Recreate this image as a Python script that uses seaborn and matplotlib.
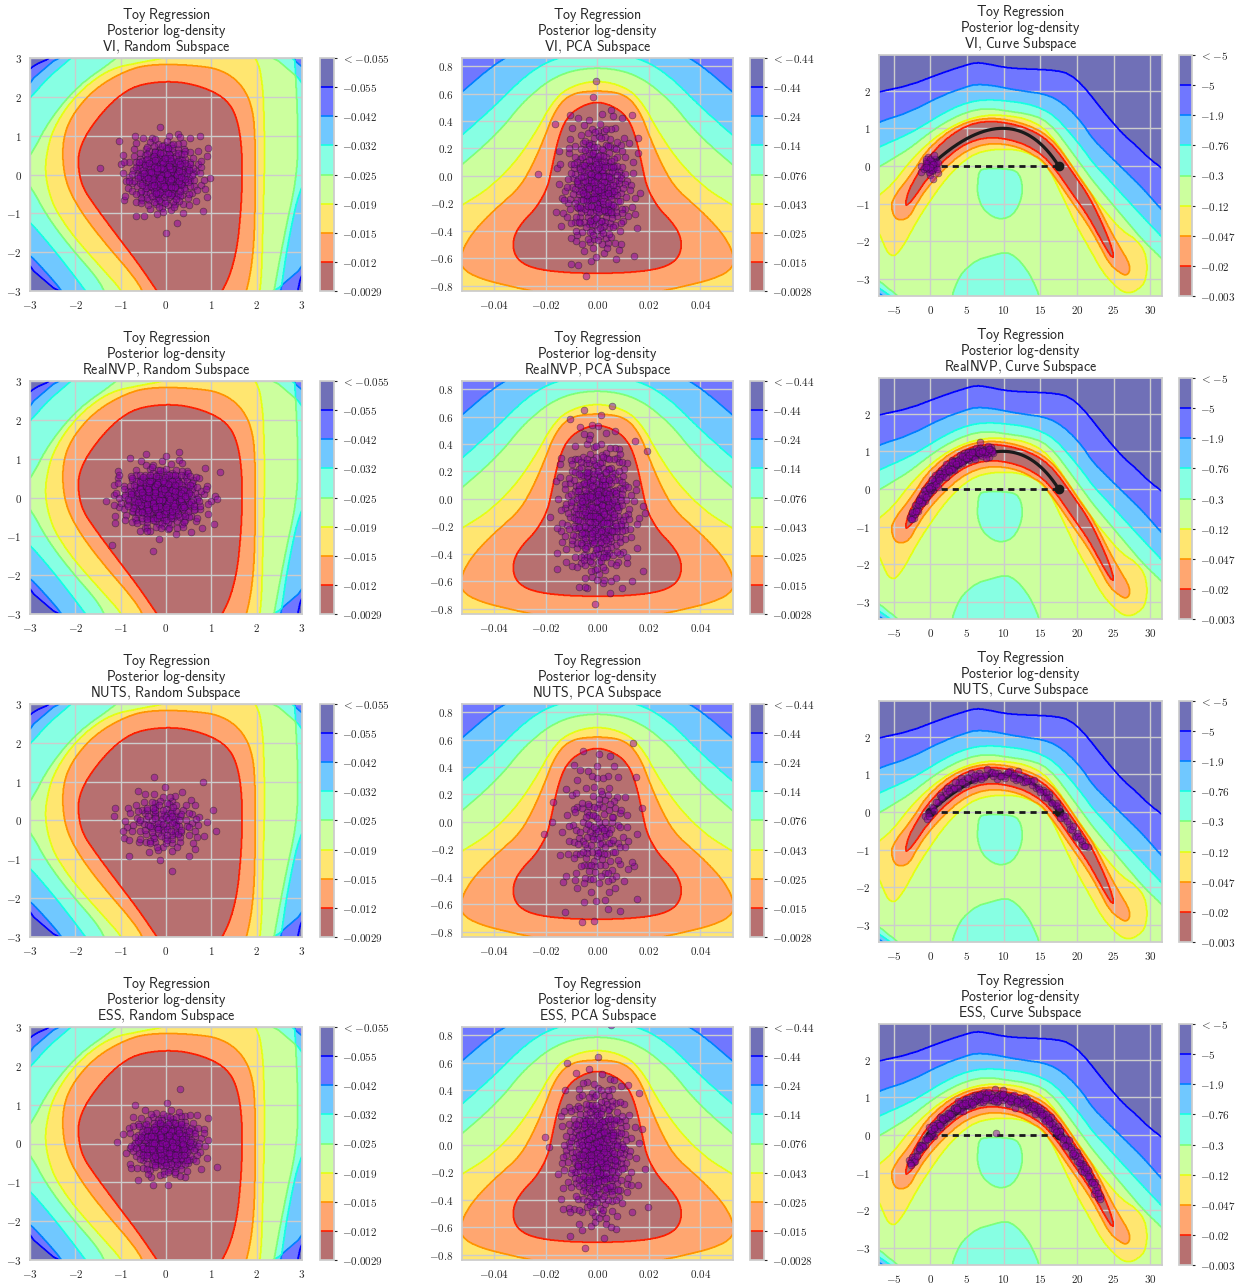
import numpy as np
import matplotlib
matplotlib.use("Agg")
import matplotlib.pyplot as plt
import seaborn as sns
from matplotlib.path import Path
from matplotlib.ticker import FixedLocator, FuncFormatter
from matplotlib import cm

sns.set_theme(style="whitegrid")
plt.rcParams["font.family"] = ["DejaVu Sans"]
plt.rcParams["mathtext.fontset"] = "cm"

# ---------------------------------------------------------------- data
METHODS = ["VI", "RealNVP", "NUTS", "ESS"]
SUBSPACES = ["Random", "PCA", "Curve"]

A_CBAR = ["< -0.055", "-0.055", "-0.042", "-0.032", "-0.025", "-0.019", "-0.015", "-0.012", "-0.0029"]
B_CBAR = ["< -0.44", "-0.44", "-0.24", "-0.14", "-0.076", "-0.043", "-0.025", "-0.015", "-0.0028"]
C_CBAR = ["< -5", "-5", "-1.9", "-0.76", "-0.3", "-0.12", "-0.047", "-0.02", "-0.003"]

A_XLIM, A_YLIM = (-3.0, 3.0), (-3.0, 3.0)
B_XLIM, B_YLIM = (-0.0525, 0.0527), (-0.84, 0.86)
C_XLIM, C_YLIM = (-7.0, 31.6), (-3.46, 2.95)

A_XTICKS = [-3, -2, -1, 0, 1, 2, 3]
A_YTICKS = [-3, -2, -1, 0, 1, 2, 3]
B_XTICKS = [-0.04, -0.02, 0.0, 0.02, 0.04]
B_YTICKS = [-0.8, -0.6, -0.4, -0.2, 0.0, 0.2, 0.4, 0.6, 0.8]
C_XTICKS = [-5, 0, 5, 10, 15, 20, 25, 30]
C_YTICKS = [-3, -2, -1, 0, 1, 2]

# level boundaries (region where the log-density exceeds each level)
A_P1 = [(-3.6, -3.6), (3.6, -3.6), (3.6, 3.6), (-3.6, 3.6)]
A_P2 = [(-2.53, 3.0), (-2.8, 2.88), (-3.0, 2.73), (-3.6, 2.1), (-3.6, -1.5), (-3.0, -2.07), (-2.62, -2.55),
        (-2.31, -2.97), (-2.0, -3.6), (2.8, -3.6), (2.91, -2.97), (3.0, -2.5), (3.6, -2.0), (3.6, 3.6), (-2.2, 3.6)]
A_P3 = [(-2.09, 3.0), (-1.5, 3.6), (3.6, 3.6), (3.6, 0.4), (3.0, -0.1), (2.69, -1.73), (2.54, -2.97), (2.45, -3.6),
        (-1.4, -3.6), (-1.79, -2.97), (-2.38, -2.07), (-3.0, -1.21), (-3.6, -0.6), (-3.6, 1.3), (-3.0, 1.96), (-2.6, 2.5)]
A_P4 = [(-1.06, 3.0), (-0.6, 3.6), (2.8, 3.6), (2.84, 3.0), (2.91, 1.36), (2.9, 0.0), (2.62, -1.5), (2.38, -3.0),
        (2.3, -3.6), (-1.2, -3.6), (-1.35, -3.0), (-1.57, -2.59), (-2.09, -1.9), (-2.6, -1.12), (-3.0, -0.27),
        (-3.3, 0.1), (-2.97, 0.5), (-2.6, 1.36), (-1.94, 2.3)]
A_P5 = [(2.18, 0.5), (2.16, 1.5), (2.14, 2.22), (2.03, 3.0), (1.6, 3.3), (0.8, 3.3), (-0.03, 3.0), (-0.6, 2.88),
        (-1.21, 2.73), (-1.75, 2.3), (-2.16, 1.79), (-2.45, 1.25), (-2.6, 0.76), (-2.68, 0.07), (-2.53, -0.70),
        (-2.25, -1.25), (-1.94, -1.73), (-1.28, -2.59), (-0.99, -2.97), (-0.7, -3.6), (0.6, -4.2), (1.95, -3.6),
        (2.1, -2.97), (2.14, -1.21)]
A_P6 = [(1.97, 0.88), (1.91, 1.75), (1.66, 2.34), (1.2, 2.72), (0.52, 2.82), (-0.21, 2.84), (-0.76, 2.74),
        (-1.48, 2.3), (-1.99, 1.68), (-2.25, 1.06), (-2.29, 0.37), (-2.18, -0.32), (-1.85, -1.01), (-1.33, -1.79),
        (-0.75, -2.57), (-0.51, -3.0), (-0.25, -3.7), (0.6, -4.0), (1.55, -3.7), (1.79, -3.0), (1.93, -2.05),
        (1.97, -0.67)]
A_P7 = [(1.68, 0.54), (1.61, 1.25), (1.44, 1.8), (1.07, 2.14), (0.45, 2.37), (-0.14, 2.40), (-0.76, 2.26),
        (-1.26, 1.8), (-1.7, 1.16), (-1.92, 0.63), (-1.94, 0.19), (-1.85, -0.32), (-1.55, -0.84), (-1.11, -1.53),
        (-0.6, -2.31), (-0.2, -3.0), (0.1, -3.5), (0.55, -3.7), (1.0, -3.5), (1.24, -3.0), (1.42, -2.57),
        (1.57, -1.88), (1.64, -1.1), (1.68, -0.32)]

# PCA subspace: right halves (mirror-symmetric)
B_P1_R = [(0.0, 1.3), (0.08, 1.3), (0.08, -1.3), (0.0, -1.3)]
B_P2_R = [(0.0, 1.06), (0.022, 0.99), (0.0362, 0.86), (0.0444, 0.745), (0.0525, 0.614), (0.064, 0.42),
          (0.075, -0.6), (0.075, -1.2), (0.0, -1.2)]
B_P3_R = [(0.0, 0.92), (0.0168, 0.86), (0.0278, 0.736), (0.0407, 0.493), (0.0525, 0.298), (0.064, 0.12),
          (0.072, -0.6), (0.072, -1.15), (0.0, -1.15)]
B_P4_R = [(0.0, 0.797), (0.0148, 0.748), (0.0277, 0.566), (0.038, 0.322), (0.0525, 0.079), (0.064, -0.1),
          (0.07, -0.6), (0.07, -1.1), (0.0, -1.1)]
B_P5_R = [(0.0, 0.70), (0.011, 0.65), (0.0174, 0.54), (0.0238, 0.32), (0.0316, 0.103), (0.0419, -0.091),
          (0.0525, -0.213), (0.062, -0.33), (0.068, -0.6), (0.065, -0.95), (0.04, -1.05), (0.0, -1.05)]
B_P6_R = [(0.0, 0.625), (0.011, 0.598), (0.0167, 0.468), (0.0206, 0.274), (0.0251, 0.079), (0.0303, -0.091),
          (0.0393, -0.237), (0.047, -0.383), (0.0515, -0.505), (0.0535, -0.627), (0.051, -0.70), (0.0445, -0.755),
          (0.035, -0.80), (0.024, -0.845), (0.012, -0.9), (0.0, -0.92)]
B_P7_R = [(0.0, 0.55), (0.0083, 0.49), (0.0128, 0.395), (0.0154, 0.25), (0.0174, 0.079), (0.0193, -0.091),
          (0.0238, -0.237), (0.029, -0.335), (0.0322, -0.432), (0.0328, -0.529), (0.0309, -0.614),
          (0.0251, -0.675), (0.0135, -0.705), (0.0, -0.712)]

C_P1 = [(-8.0, 1.90), (-7.0, 1.97), (-2.86, 2.14), (1.68, 2.48), (4.86, 2.68), (6.23, 2.75), (7.59, 2.72),
        (9.86, 2.63), (11.68, 2.59), (14.4, 2.57), (17.1, 2.54), (18.95, 2.45), (20.8, 2.14), (22.6, 1.70),
        (24.4, 1.26), (26.2, 0.86), (28.0, 0.55), (29.9, 0.19), (31.6, -0.06), (33.0, -0.30), (33.0, -4.5),
        (-8.0, -4.5)]
C_P2 = [(-8.0, 1.05), (-7.0, 1.17), (-2.86, 1.43), (1.68, 1.88), (4.86, 2.1), (6.23, 2.17), (8.5, 2.14),
        (10.8, 2.05), (13.05, 1.98), (15.3, 1.92), (17.1, 1.79), (18.95, 1.52), (20.8, 1.12), (22.1, 0.73),
        (24.4, 0.28), (26.7, -0.16), (29.0, -0.6), (31.6, -1.18), (33.0, -1.45), (33.0, -4.5), (-8.0, -4.5)]
C_P3 = [(-8.0, 0.4), (-7.0, 0.5), (-2.86, 0.86), (-0.6, 1.12), (1.68, 1.39), (3.95, 1.61), (6.23, 1.74),
        (8.5, 1.76), (10.8, 1.72), (13.05, 1.66), (15.3, 1.52), (17.1, 1.3), (18.95, 0.9), (20.8, 0.46),
        (22.1, 0.1), (24.4, -0.38), (26.7, -0.87), (29.0, -1.36), (31.6, -1.89), (33.0, -2.2), (33.0, -4.5),
        (-8.0, -4.5)]
C_P4 = [(-8.0, -0.12), (-7.0, -0.03), (-5.14, 0.19), (-2.86, 0.46), (-0.6, 0.81), (1.68, 1.12), (3.95, 1.35),
        (6.23, 1.5), (8.5, 1.52), (10.8, 1.45), (13.05, 1.39), (15.3, 1.26), (17.1, 0.95), (18.95, 0.46),
        (20.8, -0.03), (22.1, -0.38), (24.4, -0.92), (26.7, -1.45), (29.0, -1.98), (31.6, -2.47), (33.0, -2.75),
        (33.0, -4.5), (-8.0, -4.5)]
C_P5 = [(-8.0, -0.95), (-7.0, -0.78), (-5.1, -0.47), (-2.86, 0.1), (-0.6, 0.55), (1.68, 0.9), (3.95, 1.15),
        (6.23, 1.3), (8.5, 1.36), (10.8, 1.33), (13.05, 1.25), (15.3, 1.04), (17.1, 0.65), (18.95, 0.11),
        (20.8, -0.45), (23.5, -1.13), (26.0, -1.7), (28.0, -1.95), (29.2, -2.25), (29.6, -2.64), (29.4, -3.0),
        (28.9, -3.2), (27.5, -3.38), (26.2, -3.35), (25.0, -3.15), (23.5, -2.82), (21.7, -2.2), (19.9, -1.58),
        (18.0, -0.8), (16.2, -0.07), (15.0, 0.2), (13.5, 0.33), (12.0, 0.42), (10.1, 0.45), (8.0, 0.42),
        (6.2, 0.33), (4.5, 0.12), (3.0, -0.16), (1.5, -0.5), (-0.14, -0.96), (-1.3, -1.3), (-2.4, -1.67),
        (-3.6, -2.1), (-4.7, -2.38), (-5.4, -2.38), (-6.0, -2.25), (-7.0, -1.76), (-8.0, -1.6)]
C_P6 = [(-5.4, -1.05), (-4.7, -0.75), (-3.3, -0.40), (-2.0, -0.05), (-0.6, 0.38), (1.68, 0.8), (3.95, 1.08),
        (6.23, 1.23), (8.5, 1.27), (10.8, 1.22), (13.05, 1.1), (15.3, 0.9), (17.1, 0.6), (19.4, -0.02),
        (21.5, -0.6), (23.0, -1.12), (24.5, -1.7), (25.8, -2.15), (26.9, -2.5), (27.3, -2.75), (26.8, -2.92),
        (25.9, -2.85), (24.4, -2.6), (23.0, -2.08), (21.5, -1.56), (19.4, -0.98), (17.1, -0.32), (15.3, 0.12),
        (13.05, 0.42), (10.8, 0.56), (8.5, 0.6), (6.23, 0.52), (3.95, 0.28), (1.68, -0.12), (-0.6, -0.62),
        (-2.0, -1.05), (-2.86, -1.36), (-4.0, -1.45), (-4.9, -1.38)]
C_P7 = [(-3.45, -1.05), (-3.0, -0.67), (-2.0, -0.31), (-0.6, 0.15), (1.68, 0.64), (3.95, 0.97), (6.23, 1.15),
        (8.5, 1.19), (10.8, 1.13), (13.05, 1.01), (15.3, 0.79), (17.1, 0.46), (19.4, -0.17), (21.5, -0.77),
        (23.0, -1.34), (24.5, -2.02), (25.1, -2.45), (24.5, -2.38), (23.0, -1.86), (21.5, -1.33), (19.4, -0.75),
        (17.1, -0.1), (15.3, 0.29), (13.05, 0.56), (10.8, 0.70), (8.5, 0.76), (6.23, 0.70), (3.95, 0.49),
        (1.68, 0.12), (-0.6, -0.38), (-2.0, -0.79), (-3.0, -1.03)]
C_HOLE1 = [(6.68, -0.12), (7.59, -0.07), (9.86, -0.07), (11.7, -0.12), (12.4, -0.34), (12.6, -0.69),
           (12.1, -1.05), (11.2, -1.31), (9.86, -1.42), (8.5, -1.36), (7.14, -1.14), (6.45, -0.78), (6.45, -0.43)]
C_HOLE2 = [(2.95, -3.46), (3.6, -3.1), (4.4, -2.82), (6.23, -2.51), (8.5, -2.38), (10.3, -2.29), (11.7, -2.42),
           (13.05, -2.73), (14.0, -3.05), (14.9, -3.46), (15.2, -4.0), (2.7, -4.0)]

# curve subspace: learned curve (Bezier control points) and ridge of the posterior
CURVE_CX = [0.0, 11.0, 17.5]
CURVE_CY = [0.0, 2.0, 0.0]
C_SPINE_X = [-3.0, -2.0, -0.6, 1.68, 3.95, 6.23, 8.5, 10.8, 13.05, 15.3, 17.1, 19.4, 21.5, 23.0, 24.5]
C_SPINE_Y = [-0.85, -0.55, -0.1, 0.42, 0.77, 0.97, 1.03, 0.97, 0.83, 0.57, 0.2, -0.45, -1.05, -1.6, -2.2]

# sample clouds (count, centre, spread) per method
A_N = [380, 480, 150, 400]
A_MX = [-0.05, -0.1, -0.05, 0.0]
A_MY = [0.0, 0.0, -0.05, 0.0]
A_SX = [0.40, 0.45, 0.45, 0.38]
A_SY = [0.45, 0.40, 0.42, 0.38]

B_N = [380, 460, 180, 450]
B_MX = [0.0, 0.0, 0.0, 0.0]
B_MY = [-0.08, -0.08, -0.1, -0.05]
B_SX = [0.0066, 0.0068, 0.0072, 0.0066]
B_SY = [0.24, 0.26, 0.27, 0.25]

C_VI_N, C_VI_SX, C_VI_SY = 45, 0.55, 0.12
C_ARCH_N = [0, 160, 110, 260]
C_ARCH_X0 = [0.0, -2.8, -0.7, -3.0]
C_ARCH_X1 = [0.0, 8.6, 21.6, 23.2]
C_ARCH_SD = [0.0, 0.08, 0.07, 0.08]
C_ESS_EXTRA_X, C_ESS_EXTRA_Y = [9.0], [0.05]

# band colours: positions on the jet colour map of the 8 bands and 7 boundary lines
FILL_POS = [0.0, 0.14, 0.28, 0.40, 0.55, 0.685, 0.805, 1.0]
LINE_POS = [0.125, 0.25, 0.375, 0.5, 0.625, 0.75, 0.875]

# ---------------------------------------------------------------- helpers
W, H = 1236, 1285
FILL = [cm.jet(p) for p in FILL_POS]
LINE = [cm.jet(p) for p in LINE_POS]
TXT = "#262626"


def sf(s):
    return r"$\mathsf{" + s + "}$"


def chaikin(pts, it):
    P = np.asarray(pts, float)
    for _ in range(it):
        N = np.roll(P, -1, axis=0)
        Q = 0.75 * P + 0.25 * N
        R = 0.25 * P + 0.75 * N
        P = np.empty((2 * len(Q), 2))
        P[0::2] = Q
        P[1::2] = R
    return P


def mirror(right):
    return list(right) + [(-x, y) for (x, y) in reversed(right[1:-1])]


def field(xlim, ylim, polys, holes, smooth, n=520):
    xs = np.linspace(xlim[0], xlim[1], n)
    ys = np.linspace(ylim[0], ylim[1], n)
    XX, YY = np.meshgrid(xs, ys)
    pts = np.column_stack([XX.ravel(), YY.ravel()])
    T = np.zeros(len(pts))
    for p in polys:
        T += Path(chaikin(p, smooth)).contains_points(pts)
    for h in holes:
        T -= Path(chaikin(h, smooth)).contains_points(pts)
    return XX, YY, T.reshape(XX.shape)


def halton(n, base, start):
    out = np.empty(n)
    for i in range(n):
        k = i + start
        f, r = 1.0, 0.0
        while k > 0:
            f /= base
            r += f * (k % base)
            k //= base
        out[i] = r
    return out


def normals(n, start):
    u1 = halton(n, 2, start)
    u2 = halton(n, 3, start)
    rad = np.sqrt(-2 * np.log(np.clip(u1, 1e-6, 1)))
    return rad * np.cos(2 * np.pi * u2), rad * np.sin(2 * np.pi * u2)


def rect(l, t, r, b, dy):
    return [l / W, 1 - (b + dy) / H, (r - l) / W, (b - t) / H]


def title(m, s):
    return (sf(r"Toy\ Regression") + "\n" + sf(r"Posterior\ log") + "-" + sf("density") + "\n"
            + sf(m + r"{,}\ " + s + r"\ Subspace"))


def fmt_num(v, dec):
    if abs(v) < 1e-12:
        v = 0.0
    return sf(("%." + str(dec) + "f") % v)


def cbar_label(s):
    if s.startswith("<"):
        return r"$<\mathsf{" + s[1:].strip() + "}$"
    return sf(s)


# ---------------------------------------------------------------- fields
FA = field(A_XLIM, A_YLIM, [A_P1, A_P2, A_P3, A_P4, A_P5, A_P6, A_P7], [], 3)
FB = field(B_XLIM, B_YLIM, [mirror(p) for p in [B_P1_R, B_P2_R, B_P3_R, B_P4_R, B_P5_R, B_P6_R, B_P7_R]], [], 3)
FC = field(C_XLIM, C_YLIM, [C_P1, C_P2, C_P3, C_P4, C_P5, C_P6, C_P7], [C_HOLE1, C_HOLE2], 1)

PANELS = [
    dict(F=FA, xlim=A_XLIM, ylim=A_YLIM, xt=A_XTICKS, yt=A_YTICKS, xd=0, yd=0, cb=A_CBAR,
         ax=(30, 58, 302, 291), cax=(320, 58, 334, 291)),
    dict(F=FB, xlim=B_XLIM, ylim=B_YLIM, xt=B_XTICKS, yt=B_YTICKS, xd=2, yd=1, cb=B_CBAR,
         ax=(462, 58, 733, 291), cax=(750, 58, 764, 291)),
    dict(F=FC, xlim=C_XLIM, ylim=C_YLIM, xt=C_XTICKS, yt=C_YTICKS, xd=0, yd=0, cb=C_CBAR,
         ax=(879, 55, 1162, 296), cax=(1179, 55, 1192, 296)),
]

fig = plt.figure(figsize=(W / 100, H / 100), dpi=100)
LEVELS = np.arange(-0.5, 8.0, 1.0)
LINE_LEVELS = np.arange(0.5, 7.5, 1.0)
PT = dict(color="#8e00a8", alpha=0.5, edgecolor="k", linewidth=0.5, s=24, zorder=4, legend=False)

for r, method in enumerate(METHODS):
    dy = 323 * r
    for c, sub in enumerate(SUBSPACES):
        P = PANELS[c]
        ax = fig.add_axes(rect(*P["ax"], dy))
        cax = fig.add_axes(rect(*P["cax"], dy))
        XX, YY, T = P["F"]
        cf = ax.contourf(XX, YY, T, levels=LEVELS, colors=FILL, alpha=0.56, zorder=1)
        cs = ax.contour(XX, YY, T, levels=LINE_LEVELS, colors=LINE, linewidths=1.2, zorder=2)
        ax.set_axisbelow("line")
        ax.set_xlim(*P["xlim"])
        ax.set_ylim(*P["ylim"])
        ax.xaxis.set_major_locator(FixedLocator(P["xt"]))
        ax.yaxis.set_major_locator(FixedLocator(P["yt"]))
        xd, yd = P["xd"], P["yd"]
        ax.xaxis.set_major_formatter(FuncFormatter(lambda v, p, d=xd: fmt_num(v, d)))
        ax.yaxis.set_major_formatter(FuncFormatter(lambda v, p, d=yd: fmt_num(v, d)))
        ax.tick_params(labelsize=8, pad=6, colors=TXT, length=0)
        for sp in ax.spines.values():
            sp.set_color("#cccccc")
        ax.set_title(title(method, sub), fontsize=10, pad=5, color=TXT, linespacing=0.86)

        # samples
        if c == 0:
            zx, zy = normals(A_N[r], 1 + 900 * r)
            sns.scatterplot(x=A_MX[r] + A_SX[r] * zx, y=A_MY[r] + A_SY[r] * zy, ax=ax, **PT)
        elif c == 1:
            zx, zy = normals(B_N[r], 37 + 900 * r)
            sns.scatterplot(x=B_MX[r] + B_SX[r] * zx, y=B_MY[r] + B_SY[r] * zy, ax=ax, **PT)
        else:
            t = np.linspace(0, 1, 200)
            bx = (1 - t) ** 2 * CURVE_CX[0] + 2 * t * (1 - t) * CURVE_CX[1] + t ** 2 * CURVE_CX[2]
            by = (1 - t) ** 2 * CURVE_CY[0] + 2 * t * (1 - t) * CURVE_CY[1] + t ** 2 * CURVE_CY[2]
            ax.plot(bx, by, color="k", lw=2.3, zorder=3, solid_capstyle="round")
            ax.plot([CURVE_CX[0], CURVE_CX[2]], [CURVE_CY[0], CURVE_CY[2]], color="k", lw=2.0,
                    dashes=(2.2, 1.8), zorder=3)
            ax.plot([CURVE_CX[0], CURVE_CX[2]], [CURVE_CY[0], CURVE_CY[2]], "o", color="k", ms=6, zorder=3)
            if r == 0:
                zx, zy = normals(C_VI_N, 5)
                px, py = C_VI_SX * zx, C_VI_SY * zy
            else:
                u = halton(C_ARCH_N[r], 5, 11 + 300 * r)
                _, zz = normals(C_ARCH_N[r], 11 + 300 * r)
                px = C_ARCH_X0[r] + (C_ARCH_X1[r] - C_ARCH_X0[r]) * u
                py = np.interp(px, C_SPINE_X, C_SPINE_Y) + C_ARCH_SD[r] * zz
                if method == "ESS":
                    px = np.concatenate([px, C_ESS_EXTRA_X])
                    py = np.concatenate([py, C_ESS_EXTRA_Y])
            sns.scatterplot(x=px, y=py, ax=ax, **PT)

        # colorbar
        cbar = fig.colorbar(cf, cax=cax)
        cbar.set_ticks(LEVELS)
        cbar.set_ticklabels([cbar_label(s) for s in P["cb"]])
        cbar.add_lines(cs)
        cax.invert_yaxis()
        cax.grid(False)
        cbar.outline.set_edgecolor("#cccccc")
        cax.tick_params(labelsize=8, colors=TXT, length=2.5, width=0.8, pad=3, right=True)

fig.savefig("out.png", dpi=100)
